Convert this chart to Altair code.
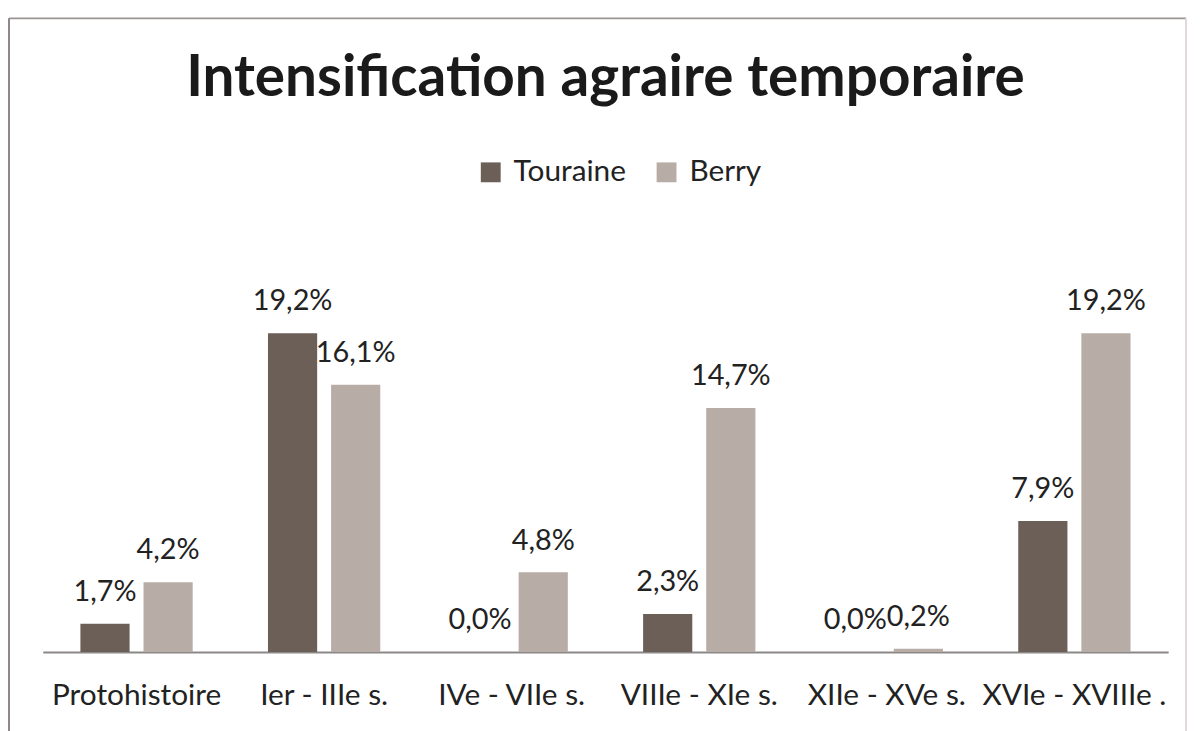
import altair as alt
import pandas as pd

# ---- data ----
categories = ["Protohistoire", "Ier - IIIe s.", "IVe - VIIe s.", "VIIIe - XIe s.", "XIIe - XVe s.", "XVIe - XVIIIe ."]
series = ["Touraine", "Berry"]
touraine = [1.7, 19.2, 0.0, 2.3, 0.0, 7.9]
berry = [4.2, 16.1, 4.8, 14.7, 0.2, 19.2]
colors = ["#6b5f58", "#b8ada6"]
title_text = "Intensification agraire temporaire"

rows = []
for i, c in enumerate(categories):
    rows.append({"periode": c, "region": "Touraine", "valeur": touraine[i]})
    rows.append({"periode": c, "region": "Berry", "valeur": berry[i]})
df = pd.DataFrame(rows)
df["etiquette"] = df["valeur"].map(lambda v: f"{v:.1f}%".replace(".", ","))

W, H = 1133, 418
FONT = "Lato"

x = alt.X(
    "periode:N", sort=categories,
    scale=alt.Scale(paddingInner=0, paddingOuter=0),
    axis=alt.Axis(title=None, labelAngle=0, labelFont=FONT, labelFontSize=30,
                  labelColor="#222222", ticks=False, tickSize=0, labelPadding=53,
                  labelBaseline="alphabetic", labelLimit=400, domainColor="#8c8888",
                  domainWidth=2, grid=False),
)
xo = alt.XOffset("region:N", sort=series,
                 scale=alt.Scale(paddingInner=0.2205, paddingOuter=0.5965))
y = alt.Y("valeur:Q", scale=alt.Scale(domain=[0, 25], nice=False, zero=True), axis=None)

bars = alt.Chart(df).mark_bar().encode(
    x=x, xOffset=xo, y=y,
    color=alt.Color(
        "region:N", sort=series,
        scale=alt.Scale(domain=series, range=colors),
        legend=alt.Legend(title=None, orient="none", legendX=436, legendY=-80,
                          direction="horizontal", symbolType="square", symbolSize=400,
                          symbolStrokeWidth=0, symbolOpacity=1, labelFont=FONT,
                          labelFontSize=30, labelColor="#222222", labelOffset=8,
                          columnPadding=25, padding=0),
    ),
)

labels = alt.Chart(df).mark_text(
    font=FONT, fontSize=29, color="#222222", baseline="alphabetic", dy=-23
).encode(x=x, xOffset=xo, y=y, text="etiquette:N")

frame_df = pd.DataFrame({"k": [0]})
top_rule = alt.Chart(frame_df).mark_rule(color="#9d9393", strokeWidth=2).encode(
    x=alt.value(-34), x2=alt.value(1151), y=alt.value(-220))
left_rule = alt.Chart(frame_df).mark_rule(color="#8f8686", strokeWidth=2).encode(
    x=alt.value(-34), y=alt.value(-220), y2=alt.value(600))
right_rule = alt.Chart(frame_df).mark_rule(color="#e0dada", strokeWidth=2).encode(
    x=alt.value(1151), y=alt.value(-220), y2=alt.value(600))

chart = alt.layer(bars, labels, top_rule, left_rule, right_rule).properties(
    width=W, height=H,
    background="white",
    title=alt.TitleParams(text=title_text, font=FONT, fontSize=57, fontWeight="bold",
                          color="#1a1a1a", anchor="middle", frame="group",
                          baseline="alphabetic", offset=-136),
    padding={"left": 35, "top": 228, "right": 25, "bottom": 77},
    autosize=alt.AutoSizeParams(type="none"),
).configure_view(strokeWidth=0, stroke="transparent")

chart.save("out.html", embed_options={"renderer": "svg", "actions": False})
